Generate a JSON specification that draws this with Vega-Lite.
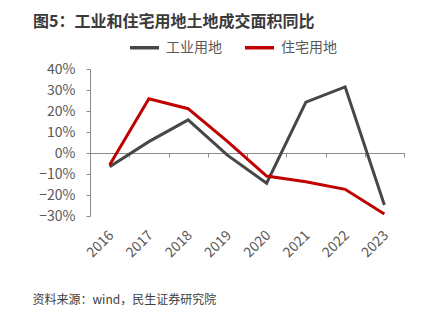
{
  "$schema": "https://vega.github.io/schema/vega-lite/v6.json",
  "width": 314,
  "height": 147,
  "autosize": "none",
  "padding": {"left": 90, "top": 69, "right": 33, "bottom": 105},
  "background": "white",
  "config": {
    "view": {"stroke": null},
    "font": "Noto Sans CJK SC"
  },
  "title": {
    "text": "图5：工业和住宅用地土地成交面积同比",
    "anchor": "start",
    "frame": "group",
    "dx": -57,
    "offset": 1,
    "fontSize": 16,
    "fontWeight": "bold",
    "color": "#3a3a3a",
    "font": "Noto Sans CJK SC"
  },
  "data": {
    "values": [
      {"year": "2016", "series": "工业用地", "value": -0.066},
      {"year": "2017", "series": "工业用地", "value": 0.054},
      {"year": "2018", "series": "工业用地", "value": 0.158},
      {"year": "2019", "series": "工业用地", "value": -0.01},
      {"year": "2020", "series": "工业用地", "value": -0.144},
      {"year": "2021", "series": "工业用地", "value": 0.242},
      {"year": "2022", "series": "工业用地", "value": 0.315},
      {"year": "2023", "series": "工业用地", "value": -0.248},
      {"year": "2016", "series": "住宅用地", "value": -0.057},
      {"year": "2017", "series": "住宅用地", "value": 0.258},
      {"year": "2018", "series": "住宅用地", "value": 0.211},
      {"year": "2019", "series": "住宅用地", "value": 0.055},
      {"year": "2020", "series": "住宅用地", "value": -0.11},
      {"year": "2021", "series": "住宅用地", "value": -0.137},
      {"year": "2022", "series": "住宅用地", "value": -0.173},
      {"year": "2023", "series": "住宅用地", "value": -0.29}
    ]
  },
  "encoding": {
    "y": {
      "field": "value", "type": "quantitative",
      "scale": {"domain": [-0.3, 0.4], "nice": false, "zero": false},
      "axis": {
        "values": [-0.3, -0.2, -0.1, 0, 0.1, 0.2, 0.3, 0.4],
        "format": ".0%", "title": null, "grid": false, "labelOverlap": false, "labelBound": false,
        "labelFlush": false,
        "domain": true, "domainColor": "#8c8c8c", "ticks": true, "tickSize": 4, "tickColor": "#8c8c8c",
        "labelFontSize": 14, "labelColor": "#595959", "labelPadding": 11
      }
    }
  },
  "resolve": {"axis": {"x": "independent"}},
  "layer": [
    {
      "mark": {"type": "point", "opacity": 0},
      "encoding": {
        "x": {
          "field": "year", "type": "nominal",
          "scale": {"type": "band", "paddingInner": 0, "paddingOuter": 0},
          "axis": {
            "orient": "bottom", "offset": -63, "labels": false, "title": null,
            "domain": true, "domainColor": "#8c8c8c", "domainWidth": 1,
            "ticks": true, "tickBand": "extent", "tickSize": 4, "tickColor": "#8c8c8c",
            "grid": false
          }
        }
      }
    },
    {
      "mark": {"type": "line", "strokeWidth": 3},
      "encoding": {
        "x": {
          "field": "year", "type": "nominal",
          "axis": {
            "orient": "bottom", "domain": false, "ticks": false, "grid": false,
            "labelAngle": -45, "labelFontSize": 14, "labelColor": "#595959", "labelPadding": 12, "labelOffset": -3,
            "title": "资料来源：wind，民生证券研究院",
            "titleAnchor": "start", "titleAlign": "left", "titleX": -58, "titleY": 87,
            "titleBaseline": "alphabetic",
            "titleFontSize": 12, "titleFontWeight": "normal", "titleColor": "#404040"
          }
        },
        "color": {
          "field": "series", "type": "nominal",
          "scale": {"domain": ["工业用地", "住宅用地"], "range": ["#474747", "#c00000"]},
          "legend": {
            "orient": "none", "legendX": 38, "legendY": -38, "direction": "horizontal",
            "title": null, "symbolType": "stroke", "symbolSize": 841, "symbolStrokeWidth": 3.5,
            "labelFontSize": 14, "labelColor": "#595959", "labelOffset": 5, "columnPadding": 16
          }
        }
      }
    }
  ]
}
